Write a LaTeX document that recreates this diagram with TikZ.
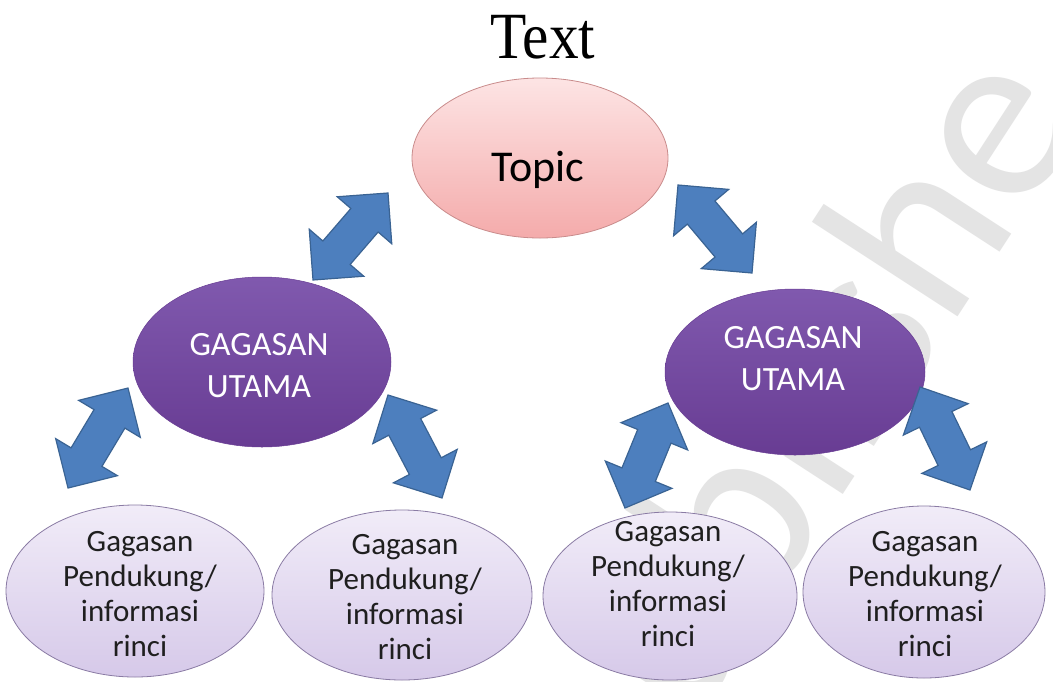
\documentclass[tikz,border=0pt]{standalone}
\usepackage{fontspec}
\setmainfont{Carlito}
\newfontfamily\titlefont{Liberation Serif}
\usetikzlibrary{shapes.geometric,calc}

\definecolor{topictop}{HTML}{FDE4E4}
\definecolor{topicbot}{HTML}{F4ABAB}
\definecolor{topicline}{HTML}{C98C8C}
\definecolor{maintop}{HTML}{8059AE}
\definecolor{mainbot}{HTML}{683C93}
\definecolor{detailtop}{HTML}{F1ECF8}
\definecolor{detailbot}{HTML}{D6C9E9}
\definecolor{detailline}{HTML}{8A7BA4}
\definecolor{arrowfill}{HTML}{4D7FBE}
\definecolor{arrowline}{HTML}{3A6393}
\definecolor{wmgray}{HTML}{E4E4E4}

% double-headed block arrow between two tip points
\newcommand\blockarrow[2]{%
  \filldraw[arrowshape]
    (#1)
    -- ($(#1)!36pt!(#2)!36pt!90:(#2)$)
    -- ($(#1)!36pt!(#2)!18pt!90:(#2)$)
    -- ($(#2)!36pt!(#1)!18pt!-90:(#1)$)
    -- ($(#2)!36pt!(#1)!36pt!-90:(#1)$)
    -- (#2)
    -- ($(#2)!36pt!(#1)!36pt!90:(#1)$)
    -- ($(#2)!36pt!(#1)!18pt!90:(#1)$)
    -- ($(#1)!36pt!(#2)!18pt!-90:(#2)$)
    -- ($(#1)!36pt!(#2)!36pt!-90:(#2)$)
    -- cycle;}

\begin{document}
\begin{tikzpicture}[x=1pt,y=-1pt,
  topicbox/.style={ellipse, draw=topicline, line width=0.8pt,
    top color=topictop, bottom color=topicbot, inner sep=0pt},
  mainbox/.style={ellipse, draw=mainbot, line width=0.5pt,
    top color=maintop, bottom color=mainbot, inner sep=0pt,
    minimum width=258pt, minimum height=170pt},
  detailbox/.style={ellipse, draw=detailline, line width=0.8pt,
    top color=detailtop, bottom color=detailbot, inner sep=0pt},
  maintext/.style={align=center, text=white, inner sep=0pt,
    font=\fontsize{34}{42}\selectfont},
  detailtext/.style={align=center, text=black!88, inner sep=0pt,
    font=\fontsize{31}{35}\selectfont},
  arrowshape/.style={fill=arrowfill, draw=arrowline, line width=1.2pt,
    line join=miter}]

\useasboundingbox (0,0) rectangle (1053,681);
\fill[white] (0,0) rectangle (1053,681);

% faint watermark behind the diagram
\begin{scope}
\clip (0,0) rectangle (1053,681);
\node[rotate=57, anchor=base west, text=wmgray, inner sep=0pt,
  font=\fontsize{250}{250}\selectfont] (wm) at (690,730) {ublishe};
\end{scope}

% title
\node[anchor=base, inner sep=0pt, font=\titlefont\fontsize{66}{66}\selectfont]
  (title) at (543,58) {\scalebox{0.9}[1]{Text}};

% ellipses
\node[topicbox, minimum width=256pt, minimum height=160pt] (topic) at (540,158) {};
\node[mainbox] (mainL) at (262,362) {};
\node[mainbox, minimum width=260pt, minimum height=166pt] (mainR) at (795,372) {};
\node[detailbox, minimum width=258pt, minimum height=172pt] (d1) at (135,591) {};
\node[detailbox, minimum width=260pt, minimum height=170pt] (d2) at (402,595) {};
\node[detailbox, minimum width=254pt, minimum height=168pt] (d3) at (670,596) {};
\node[detailbox, minimum width=242pt, minimum height=172pt] (d4) at (924,592) {};

% labels
\node[anchor=base, inner sep=0pt, font=\fontsize{44}{44}\selectfont]
  (topictext) at (538,181) {Topic};
\node[maintext] (mainLtext) at (259,366) {GAGASAN\\UTAMA};
\node[maintext] (mainRtext) at (793,359) {GAGASAN\\UTAMA};
\node[detailtext] (d1text) at (140,594) {Gagasan\\Pendukung/\\informasi\\rinci};
\node[detailtext] (d2text) at (405,597) {Gagasan\\Pendukung/\\informasi\\rinci};
\node[detailtext] (d3text) at (668,584) {Gagasan\\Pendukung/\\informasi\\rinci};
\node[detailtext] (d4text) at (925,594) {Gagasan\\Pendukung/\\informasi\\rinci};

% arrow tips
\coordinate (a1t) at (388,193);
\coordinate (a1b) at (313,280);
\coordinate (a2t) at (678,185);
\coordinate (a2b) at (752,273);
\coordinate (a3t) at (128,388);
\coordinate (a3b) at (68,488);
\coordinate (a4t) at (388,395);
\coordinate (a4b) at (442,498);
\coordinate (a5t) at (668,403);
\coordinate (a5b) at (625,508);
\coordinate (a6t) at (920,387);
\coordinate (a6b) at (970,490);

\blockarrow{a1b}{a1t}
\blockarrow{a2t}{a2b}
\blockarrow{a3b}{a3t}
\blockarrow{a4t}{a4b}
\blockarrow{a5b}{a5t}
\blockarrow{a6t}{a6b}

\end{tikzpicture}
\end{document}
